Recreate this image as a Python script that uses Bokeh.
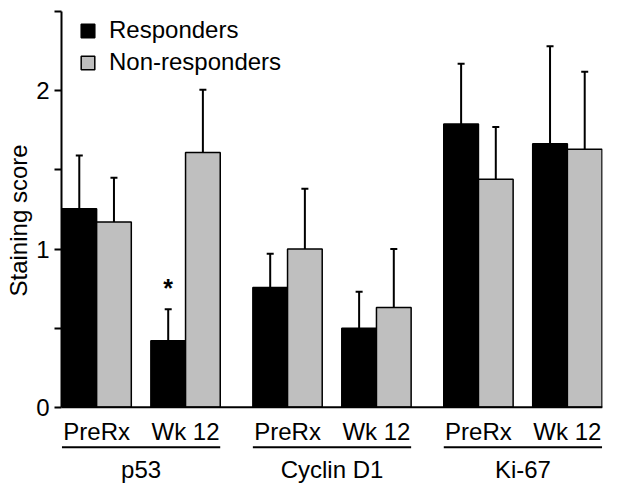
from bokeh.plotting import figure
from bokeh.models import (ColumnDataSource, Range1d, FixedTicker, LinearAxis, Whisker,
                          TeeHead, Span, Legend, LegendItem, Title)
from bokeh.core.properties import value
from bokeh.embed import file_html
from bokeh.resources import INLINE

# ---- data ----
markers = ["p53", "Cyclin D1", "Ki-67"]
timepoints = ["PreRx", "Wk 12"]
series_names = ["Responders", "Non-responders"]
responders = [1.255, 0.42, 0.757, 0.50, 1.79, 1.665]
responders_err = [0.335, 0.20, 0.213, 0.23, 0.38, 0.615]
non_responders = [1.17, 1.61, 1.00, 0.63, 1.44, 1.63]
non_responders_err = [0.28, 0.396, 0.38, 0.37, 0.33, 0.49]
significant = [False, True, False, False, False, False]
y_major_ticks = [0, 1, 2]
y_minor_ticks = [0.5, 1.5, 2.5]
y_title = "Staining score"

# ---- layout / style ----
FONT = "Liberation Sans"
FS = "24px"
BAR_W = 0.39
PAIR_STEP = 1.0
GROUP_STEP = 2.147
GRAY = "#bfbfbf"
Y_MAX = 2.5
Y_MIN = -0.5           # room under the baseline for category labels
SUB_Y = -0.152         # baseline of time-point labels
LINE_Y = -0.2525       # group underline
GRP_Y = -0.392         # baseline of marker labels
SIG_PAD = 0.135

centers, sub_labels = [], []
for g, m in enumerate(markers):
    for t, tp in enumerate(timepoints):
        centers.append(g * GROUP_STEP + t * PAIR_STEP)
        sub_labels.append(tp)
resp_x = [c - BAR_W / 2 for c in centers]
non_x = [c + BAR_W / 2 for c in centers]

src = ColumnDataSource(dict(
    resp_x=resp_x, non_x=non_x,
    resp=responders, resp_up=[v + e for v, e in zip(responders, responders_err)],
    non=non_responders, non_up=[v + e for v, e in zip(non_responders, non_responders_err)],
))

p = figure(width=605, height=489, output_backend="svg", toolbar_location=None,
           x_range=Range1d(-0.395, 5.689), y_range=Range1d(Y_MIN, Y_MAX),
           x_axis_type=None, y_axis_type=None,
           min_border_left=54, min_border_right=3, min_border_top=11, min_border_bottom=3)
p.outline_line_color = None
p.background_fill_color = "white"

# y axis (only over the data part)
yaxis = LinearAxis(ticker=FixedTicker(ticks=y_major_ticks, minor_ticks=y_minor_ticks),
                   bounds=(0, Y_MAX),
                   major_label_text_font=FONT, major_label_text_font_size=FS,
                   major_label_text_color="black", major_label_standoff=5,
                   axis_line_color="black", major_tick_line_color="black",
                   minor_tick_line_color="black",
                   axis_line_width=2, major_tick_line_width=2, minor_tick_line_width=2,
                   major_tick_in=0, major_tick_out=7, minor_tick_in=0, minor_tick_out=7)
p.add_layout(yaxis, "left")
# y axis title, starting from the bottom of the panel, lifted over the 0..2.5 part
p.add_layout(Title(text=y_title, align="left", offset=190, standoff=4,
                   text_font=FONT, text_font_size=FS, text_font_style="normal",
                   text_color="black"), "left")

# baseline
p.add_layout(Span(location=0, dimension="width", line_width=2, line_color="black"))

# bars
r1 = p.vbar(x="resp_x", top="resp", bottom=0, width=BAR_W, source=src,
            fill_color="black", line_color="black", line_width=1.5)
r2 = p.vbar(x="non_x", top="non", bottom=0, width=BAR_W, source=src,
            fill_color=GRAY, line_color="black", line_width=1.5)

# error bars (upper only)
for base, lo, up in [("resp_x", "resp", "resp_up"), ("non_x", "non", "non_up")]:
    p.add_layout(Whisker(source=src, base=base, lower=lo, upper=up, dimension="height",
                         lower_head=None,
                         upper_head=TeeHead(size=7, line_width=2, line_color="black"),
                         line_width=2, line_color="black", level="overlay"))

# significance asterisk
sig_x = [x for x, s in zip(resp_x, significant) if s]
sig_y = [u + SIG_PAD for u, s in zip(src.data["resp_up"], significant) if s]
p.text(x=sig_x, y=sig_y, text=["*"] * len(sig_x), text_align="center",
       text_baseline="alphabetic", text_font=value(FONT), text_font_size="25px",
       text_font_style="bold", text_color="black")

# time-point labels
p.text(x=centers, y=[SUB_Y] * len(centers), text=sub_labels, text_align="center",
       text_baseline="alphabetic", text_font=value(FONT), text_font_size=FS,
       text_color="black")

# group underlines and marker labels
n_t = len(timepoints)
gx0 = [resp_x[g * n_t] - BAR_W / 2 for g in range(len(markers))]
gx1 = [non_x[g * n_t + n_t - 1] + BAR_W / 2 for g in range(len(markers))]
gxc = [(centers[g * n_t] + centers[g * n_t + n_t - 1]) / 2 for g in range(len(markers))]
p.segment(x0=gx0, y0=[LINE_Y] * len(markers), x1=gx1, y1=[LINE_Y] * len(markers),
          line_width=2, line_color="black")
p.text(x=gxc, y=[GRP_Y] * len(markers), text=markers, text_align="center",
       text_baseline="alphabetic", text_font=value(FONT), text_font_size=FS,
       text_color="black")

# legend
legend = Legend(items=[LegendItem(label=series_names[0], renderers=[r1]),
                       LegendItem(label=series_names[1], renderers=[r2])],
                location=(18, 410), glyph_width=17, glyph_height=17, label_standoff=13,
                spacing=4, padding=0, margin=0, border_line_color=None,
                background_fill_alpha=0, label_text_font=FONT, label_text_font_size=FS,
                label_text_color="black")
p.add_layout(legend, "center")

open("out.html", "w").write(file_html(p, INLINE))
